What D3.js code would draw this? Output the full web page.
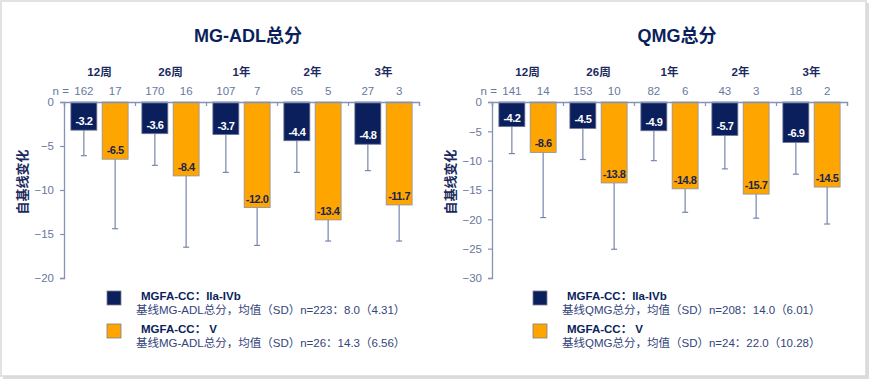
<!DOCTYPE html>
<html><head><meta charset="utf-8">
<script src="https://cdn.jsdelivr.net/npm/d3@7"></script>
<style>body{margin:0;background:#fff}svg{display:block}</style>
</head><body><svg id="c" width="869" height="379"></svg>
<script>
const groups = ["12周","26周","1年","2年","3年"];
const seriesNames = ["MGFA-CC：IIa-IVb","MGFA-CC： V"];
// MG-ADL
const adlN_A = [162,170,107,65,27];
const adlN_B = [17,16,7,5,3];
const adlMean_A = [-3.2,-3.6,-3.7,-4.4,-4.8];
const adlMean_B = [-6.5,-8.4,-12.0,-13.4,-11.7];
const adlSD_A = [2.9,3.6,4.3,3.6,3.0];
const adlSD_B = [7.9,8.1,4.3,2.4,4.1];
const adlTicks = [0,-5,-10,-15,-20];
const adlLegend = ["基线MG-ADL总分，均值（SD）n=223：8.0（4.31）","基线MG-ADL总分，均值（SD）n=26：14.3（6.56）"];
// QMG
const qmgN_A = [141,153,82,43,18];
const qmgN_B = [14,10,6,3,2];
const qmgMean_A = [-4.2,-4.5,-4.9,-5.7,-6.9];
const qmgMean_B = [-8.6,-13.8,-14.8,-15.7,-14.5];
const qmgSD_A = [4.6,5.3,5.1,5.7,5.4];
const qmgSD_B = [11.1,11.3,4.0,4.1,6.3];
const qmgTicks = [0,-5,-10,-15,-20,-25,-30];
const qmgLegend = ["基线QMG总分，均值（SD）n=208：14.0（6.01）","基线QMG总分，均值（SD）n=24：22.0（10.28）"];

const NAVY="#0b1f5c", ORANGE="#ffa500", AX="#8593b6", TICKTXT="#6877a0", ERR="#7886ad";
const FONT="'Liberation Sans', Arial, 'Noto Sans CJK SC', sans-serif";
const svg = d3.select("#c");

// frame
svg.append("rect").attr("x",866).attr("y",3).attr("width",3).attr("height",376).attr("fill","#dcdcdc");
svg.append("rect").attr("x",3).attr("y",376).attr("width",866).attr("height",3).attr("fill","#dcdcdc");
svg.append("rect").attr("x",1).attr("y",1).attr("width",865).attr("height",375).attr("fill","#fff").attr("stroke","#d9d9d9").attr("stroke-width",1.5);

function chart(o){
  const g = svg.append("g").style("font-family",FONT);
  const x0 = d3.scaleBand().domain(groups).range([o.left,o.left+355]).paddingInner(0).paddingOuter(0);
  const x1 = d3.scaleBand().domain([0,1]).range([0,x0.bandwidth()]).paddingInner(0.17).paddingOuter(0.22);
  const y = d3.scaleLinear().domain([0,o.min]).range([102,278]);

  // title
  g.append("text").attr("x",o.titleX).attr("y",42).attr("text-anchor","middle")
    .attr("font-size",18).attr("font-weight","bold").attr("fill",NAVY).text(o.title);
  // group labels
  g.selectAll(".gl").data(groups).join("text").attr("x",d=>x0(d)+x0.bandwidth()/2).attr("y",76)
    .attr("text-anchor","middle").attr("font-size",11.5).attr("font-weight","bold").attr("fill","#1b2a5e").text(d=>d);
  // n row
  const nrow=[];
  groups.forEach((gname,i)=>{nrow.push({g:gname,s:0,v:o.nA[i]});nrow.push({g:gname,s:1,v:o.nB[i]});});
  g.selectAll(".n").data(nrow).join("text").attr("x",d=>x0(d.g)+x1(d.s)+x1.bandwidth()/2).attr("y",95)
    .attr("text-anchor","middle").attr("font-size",11.5).attr("fill",TICKTXT).text(d=>d.v);
  g.append("text").attr("x",x0(groups[0])+x1(0)+x1.bandwidth()/2-15).attr("y",95).attr("text-anchor","end")
    .attr("font-size",11.5).attr("fill",TICKTXT).text("n =");

  // bars data
  const bars=[];
  groups.forEach((gname,i)=>{
    bars.push({g:gname,s:0,v:o.mA[i],sd:o.sA[i]});
    bars.push({g:gname,s:1,v:o.mB[i],sd:o.sB[i]});
  });
  // error bars
  const eb = g.selectAll(".eb").data(bars).join("g");
  eb.append("line").attr("x1",d=>x0(d.g)+x1(d.s)+x1.bandwidth()/2).attr("x2",d=>x0(d.g)+x1(d.s)+x1.bandwidth()/2)
    .attr("y1",d=>y(d.v)).attr("y2",d=>y(d.v-d.sd)).attr("stroke",ERR).attr("stroke-width",1.2);
  eb.append("line").attr("x1",d=>x0(d.g)+x1(d.s)+x1.bandwidth()/2-3).attr("x2",d=>x0(d.g)+x1(d.s)+x1.bandwidth()/2+3)
    .attr("y1",d=>y(d.v-d.sd)).attr("y2",d=>y(d.v-d.sd)).attr("stroke",ERR).attr("stroke-width",1.2);
  // bars
  g.selectAll(".bar").data(bars).join("rect").attr("x",d=>x0(d.g)+x1(d.s)).attr("width",x1.bandwidth())
    .attr("y",y(0)).attr("height",d=>y(d.v)-y(0)).attr("fill",d=>d.s?ORANGE:NAVY)
    .attr("stroke",d=>d.s?"#8a8fa8":"#6a7598").attr("stroke-width",0.8);
  g.selectAll(".bl").data(bars).join("text").attr("x",d=>x0(d.g)+x1(d.s)+x1.bandwidth()/2).attr("y",d=>y(d.v)-5)
    .attr("text-anchor","middle").attr("font-size",11).attr("font-weight","bold").attr("letter-spacing",-0.5)
    .attr("fill",d=>d.s?"#1a2550":"#fff").text(d=>d.v.toFixed(1));

  // y axis
  const ya = g.append("g").attr("transform",`translate(${o.left},0)`)
    .call(d3.axisLeft(y).tickValues(o.ticks).tickSize(4).tickPadding(6).tickFormat(d3.format("d")));
  ya.select(".domain").attr("stroke",AX).attr("stroke-width",1.3);
  ya.selectAll(".tick line").attr("stroke",AX).attr("stroke-width",1.2);
  ya.selectAll(".tick text").attr("fill",TICKTXT).attr("font-size",11.5).attr("font-family",FONT);
  // top axis
  const xa = g.append("g").attr("transform","translate(0,102)")
    .call(d3.axisBottom(d3.scaleLinear().domain([0,5]).range([o.left,o.left+355])).ticks(5).tickSize(4).tickFormat(""));
  xa.select(".domain").attr("stroke",AX).attr("stroke-width",1.3);
  xa.selectAll(".tick line").attr("stroke",AX).attr("stroke-width",1.2);
  // y title
  g.append("text").attr("transform",`translate(${o.left-37},182) rotate(-90)`).attr("text-anchor","middle")
    .attr("font-size",13).attr("font-weight","bold").attr("fill","#1b2a5e").text("自基线变化");

  // legend
  [0,1].forEach(s=>{
    const ly = 291 + s*33;
    g.append("rect").attr("x",o.legX).attr("y",ly).attr("width",14).attr("height",14)
      .attr("fill",s?ORANGE:NAVY).attr("stroke","#7a7f90").attr("stroke-width",0.8);
    g.append("text").attr("x",o.legX+34).attr("y",ly+9).attr("font-size",11.5).attr("font-weight","bold")
      .attr("fill",NAVY).text(seriesNames[s]);
    g.append("text").attr("x",o.legX+29).attr("y",ly+23).attr("font-size",11.5)
      .attr("fill","#33447a").text(o.legend[s]);
  });
}
chart({left:64,min:-20,ticks:adlTicks,title:"MG-ADL总分",titleX:248,nA:adlN_A,nB:adlN_B,mA:adlMean_A,mB:adlMean_B,sA:adlSD_A,sB:adlSD_B,legX:107,legend:adlLegend});
chart({left:492,min:-30,ticks:qmgTicks,title:"QMG总分",titleX:677,nA:qmgN_A,nB:qmgN_B,mA:qmgMean_A,mB:qmgMean_B,sA:qmgSD_A,sB:qmgSD_B,legX:533,legend:qmgLegend});
</script></body></html>
